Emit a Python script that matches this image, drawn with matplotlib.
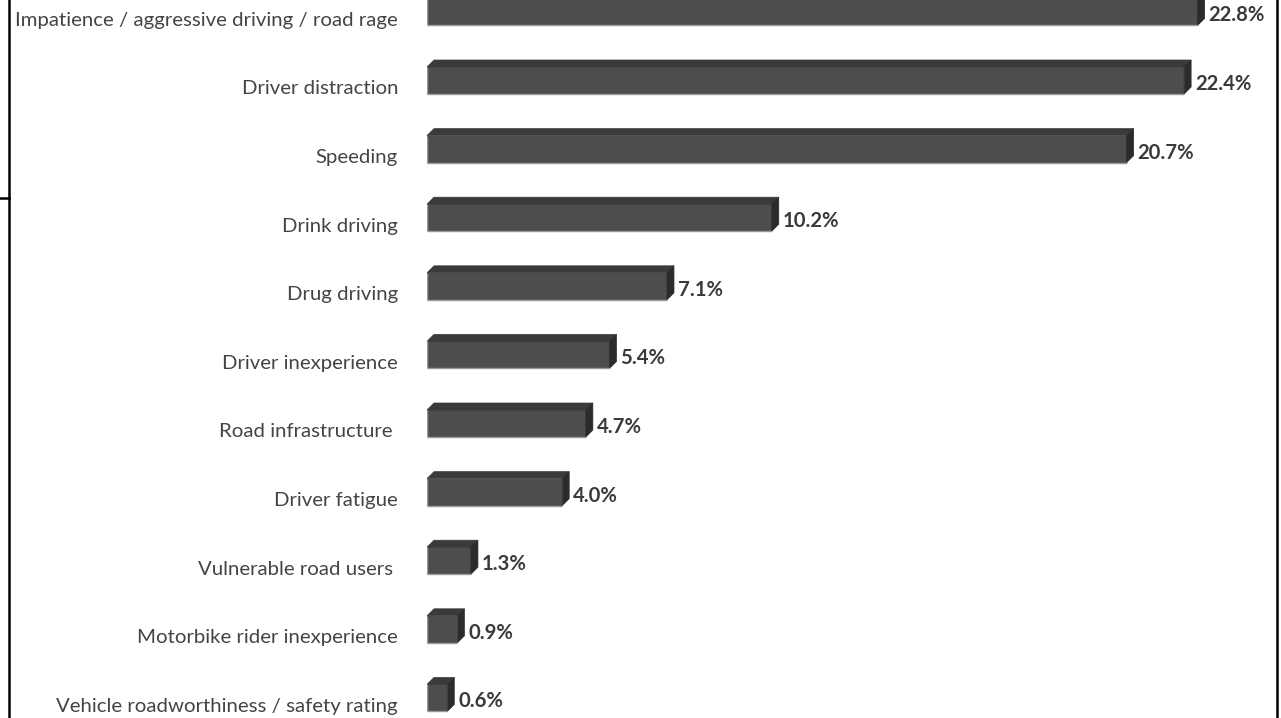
import matplotlib
matplotlib.use("Agg")
import matplotlib.pyplot as plt
from matplotlib.patches import Polygon
from matplotlib.lines import Line2D

categories = [
    "Impatience / aggressive driving / road rage",
    "Driver distraction",
    "Speeding",
    "Drink driving",
    "Drug driving",
    "Driver inexperience",
    "Road infrastructure ",
    "Driver fatigue",
    "Vulnerable road users ",
    "Motorbike rider inexperience",
    "Vehicle roadworthiness / safety rating",
]
values = [22.8, 22.4, 20.7, 10.2, 7.1, 5.4, 4.7, 4.0, 1.3, 0.9, 0.6]
value_labels = ["22.8%", "22.4%", "20.7%", "10.2%", "7.1%", "5.4%", "4.7%", "4.0%", "1.3%", "0.9%", "0.6%"]

W, H = 1281, 718
PX_PER_PCT = 33.8
ROW_PX = 68.6
FIRST_ROW_PX = 11.9

plt.rcParams["font.family"] = ["Lato", "DejaVu Sans"]

fig = plt.figure(figsize=(W / 100, H / 100), dpi=100)
fig.patch.set_facecolor("white")

left_px = 427
ax = fig.add_axes([left_px / W, 0, (W - left_px) / W, 1])
ax.set_xlim(0, (W - left_px) / PX_PER_PCT)
ax.set_ylim((H - FIRST_ROW_PX) / ROW_PX, -FIRST_ROW_PX / ROW_PX)
ax.axis("off")

half = 13.5 / ROW_PX
dx = 7 / PX_PER_PCT
dy = 7 / ROW_PX

front = "#4d4d4d"
top = "#3a3a3a"
side = "#2b2b2b"

rows = list(range(len(values)))
ax.barh(rows, values, height=2 * half, color=front, linewidth=0, zorder=2)
# light rim on the bottom and left of the front faces
ax.hlines([i + half for i in rows], 0, values, color="#9a9a9a", linewidth=1.0, zorder=4)
ax.vlines([0] * len(rows), [i - half for i in rows], [i + half for i in rows],
          color="#9a9a9a", linewidth=1.0, zorder=4)

for i, v in enumerate(values):
    y0 = i - half
    y1 = i + half
    # top face
    ax.add_patch(Polygon([(0, y0), (dx, y0 - dy), (v + dx, y0 - dy), (v, y0)],
                         closed=True, facecolor=top, edgecolor=top,
                         linewidth=0.5, zorder=3))
    # side face
    ax.add_patch(Polygon([(v, y0), (v + dx, y0 - dy), (v + dx, y1 - dy), (v, y1)],
                         closed=True, facecolor=side, edgecolor=side,
                         linewidth=0.5, zorder=3))
    ax.text(v + dx + 4 / PX_PER_PCT, i + 3.5 / ROW_PX, value_labels[i],
            ha="left", va="center", fontsize=14.6, fontweight="bold", color="#3a3a3a")
    ax.text(-29 / PX_PER_PCT, i + 8.5 / ROW_PX, categories[i],
            ha="right", va="center", fontsize=14.7, color="#444444")

# frame lines from the surrounding layout
fig.add_artist(Line2D([8.5 / W, 8.5 / W], [0, 1], color="black", linewidth=1.8))
fig.add_artist(Line2D([0, 8.5 / W], [1 - 198 / H, 1 - 198 / H], color="black", linewidth=1.8))
fig.add_artist(Line2D([1277 / W, 1277 / W], [0, 1], color="black", linewidth=1.8))

fig.savefig("out.png", dpi=100)
